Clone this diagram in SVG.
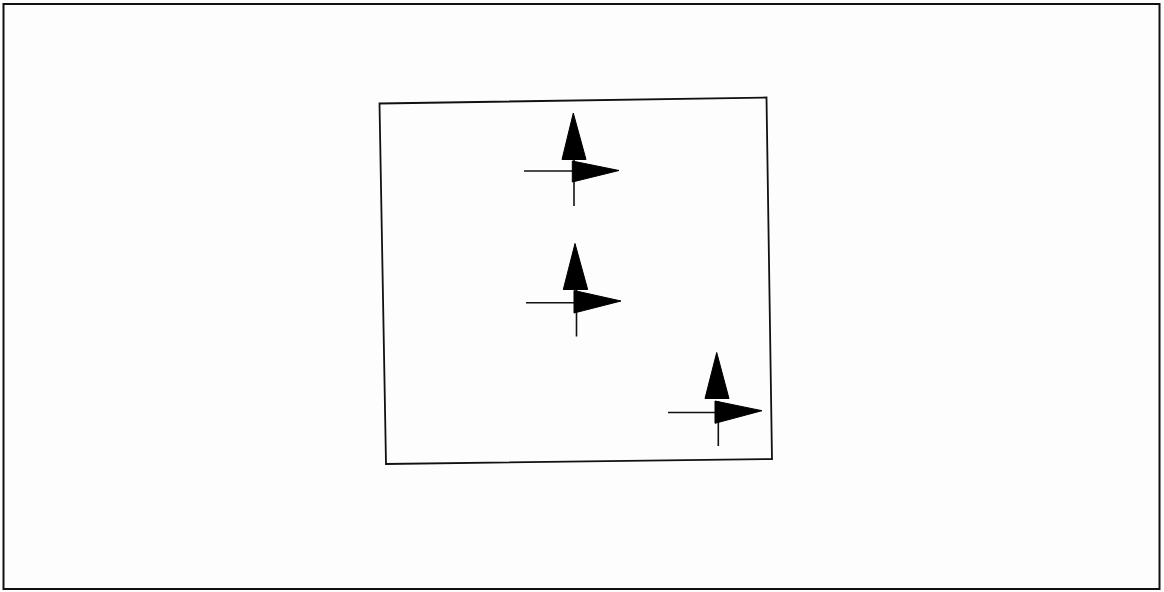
<svg xmlns="http://www.w3.org/2000/svg" width="1164" height="592" viewBox="0 0 1164 592">
<style>
.frame{fill:none;stroke:#111;stroke-width:2}
.box{fill:none;stroke:#111;stroke-width:1.8}
.ln{stroke:#111;stroke-width:1.6;fill:none}
.hd{fill:#000;stroke:#000;stroke-width:1;stroke-linejoin:round}
</style>
<rect x="0" y="0" width="1164" height="592" fill="#fdfdfd"/>
<rect class="frame" x="3.5" y="4" width="1156" height="585"/>
<polygon id="panel" class="box" points="379.5,103.5 766.5,97.5 772,459 386,464"/>
<g id="axes1">
<line class="ln" x1="524" y1="171" x2="573" y2="171"/>
<line class="ln" x1="574" y1="160" x2="574" y2="206"/>
<polygon class="hd" points="573.3,113 562,159.5 586,159.5"/>
<polygon class="hd" points="572.3,161 572.3,182 619,170.5"/>
</g>
<g id="axes2">
<line class="ln" x1="526" y1="302.7" x2="575" y2="302.7"/>
<line class="ln" x1="576.5" y1="290" x2="576.5" y2="336.5"/>
<polygon class="hd" points="575,243.5 563.3,289.5 587.7,289.5"/>
<polygon class="hd" points="574,290.5 574,313 621,301"/>
</g>
<g id="axes3">
<line class="ln" x1="668" y1="412.5" x2="716" y2="412.5"/>
<line class="ln" x1="718.3" y1="401" x2="718.3" y2="446"/>
<polygon class="hd" points="716.7,352.5 705,398.5 729,398.5"/>
<polygon class="hd" points="715,401 715,423.3 762,410.7"/>
</g>
<g id="connectors"></g>
</svg>
